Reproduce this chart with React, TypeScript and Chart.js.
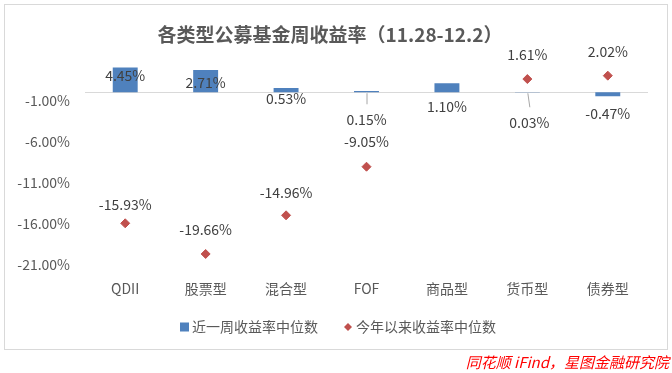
import React, { useEffect, useRef } from "react";
import { Chart, registerables } from "chart.js";

Chart.register(...registerables);

// ---------- data ----------
const categories = ["QDII", "股票型", "混合型", "FOF", "商品型", "货币型", "债券型"];
const weeklyReturn = [4.45, 2.71, 0.53, 0.15, 1.1, 0.03, -0.47];
const ytdReturn: (number | null)[] = [-15.93, -19.66, -14.96, -9.05, null, 1.61, 2.02];
const yTickValues = [-21, -16, -11, -6, -1];
const yMin = -21;
const yMax = 3;
const titleText = "各类型公募基金周收益率（11.28-12.2）";
const seriesNames = ["近一周收益率中位数", "今年以来收益率中位数"];
const sourceText = "同花顺 iFind，星图金融研究院";

// ---------- label placement (pixel offsets, styling only) ----------
const barLabelDy = [-17, -10, 6.5, 27, 14, 30, 21.5];
const barLabelDx = [0, 0, 0, 0, 0, 2, 0];
const pointLabelDy = [-19, -24, -23, -25, 0, -24, -24];

const FONT = '"Microsoft YaHei", "Noto Sans CJK SC", sans-serif';
const BLUE = "#4F81BD";
const RED = "#C0504D";
const TEXT = "#595959";
const LABEL = "#404040";

const fmt = (v: number) => v.toFixed(2) + "%";

const decorPlugin = {
  id: "decor",
  beforeDatasetsDraw(chart: any) {
    const { ctx, chartArea, scales } = chart;
    const y0 = Math.round(scales.y.getPixelForValue(0)) + 0.5;
    ctx.save();
    ctx.strokeStyle = "#D9D9D9";
    ctx.lineWidth = 1;
    ctx.beginPath();
    ctx.moveTo(chartArea.left, y0);
    ctx.lineTo(chartArea.right, y0);
    ctx.stroke();
    ctx.restore();
  },
  afterDraw(chart: any) {
    const { ctx, scales, width } = chart;
    const y0 = scales.y.getPixelForValue(0);
    ctx.save();
    // title
    ctx.font = `bold 19px ${FONT}`;
    ctx.textAlign = "center";
    ctx.textBaseline = "middle";
    ctx.fillStyle = TEXT;
    ctx.fillText(titleText, 330, 35);
    // bar labels
    ctx.font = `14px ${FONT}`;
    const barMeta = chart.getDatasetMeta(0);
    barMeta.data.forEach((el: any, i: number) => {
      const x = el.x + barLabelDx[i];
      const ly = y0 + barLabelDy[i];
      if (barLabelDy[i] > 24) {
        ctx.strokeStyle = "#A6A6A6";
        ctx.lineWidth = 1;
        ctx.beginPath();
        ctx.moveTo(el.x + 0.5, Math.max(el.y, el.base) + 1);
        ctx.lineTo(x + 0.5, ly - 15);
        ctx.stroke();
      }
      ctx.fillStyle = LABEL;
      ctx.fillText(fmt(weeklyReturn[i]), x, ly);
    });
    // point labels
    const lineMeta = chart.getDatasetMeta(1);
    lineMeta.data.forEach((el: any, i: number) => {
      const v = ytdReturn[i];
      if (v === null || v === undefined) return;
      ctx.fillStyle = LABEL;
      ctx.fillText(fmt(v), el.x, el.y + pointLabelDy[i]);
    });
    // legend
    ctx.font = `14px ${FONT}`;
    ctx.textAlign = "left";
    const ly = 327;
    const w1 = ctx.measureText(seriesNames[0]).width;
    const w2 = ctx.measureText(seriesNames[1]).width;
    const total = 9 + 3 + w1 + 26 + 8 + 4 + w2;
    let lx = Math.round(width / 2 + 2 - total / 2);
    ctx.fillStyle = BLUE;
    ctx.fillRect(lx, ly - 4.5, 9, 9);
    ctx.fillStyle = TEXT;
    ctx.fillText(seriesNames[0], lx + 12, ly);
    lx += 12 + w1 + 26;
    ctx.fillStyle = RED;
    ctx.beginPath();
    ctx.moveTo(lx + 4, ly - 4);
    ctx.lineTo(lx + 8, ly);
    ctx.lineTo(lx + 4, ly + 4);
    ctx.lineTo(lx, ly);
    ctx.closePath();
    ctx.fill();
    ctx.fillStyle = TEXT;
    ctx.fillText(seriesNames[1], lx + 12, ly);
    // frame
    ctx.strokeStyle = "#D9D9D9";
    ctx.lineWidth = 1;
    ctx.strokeRect(4.5, 4.5, 663, 345);
    // source
    ctx.font = `italic 15px ${FONT}`;
    ctx.textAlign = "right";
    ctx.fillStyle = "#FF0000";
    ctx.fillText(sourceText, 669, 362);
    ctx.restore();
  },
};

export default function App() {
  const ref = useRef<HTMLCanvasElement>(null);
  useEffect(() => {
    if (!ref.current) return;
    const chart = new Chart(ref.current, {
      type: "bar",
      data: {
        labels: categories,
        datasets: [
          {
            type: "bar",
            label: seriesNames[0],
            data: weeklyReturn,
            backgroundColor: BLUE,
            barPercentage: 0.31,
            categoryPercentage: 1,
            order: 2,
          },
          {
            type: "line",
            label: seriesNames[1],
            data: ytdReturn,
            showLine: false,
            pointStyle: "rectRot",
            pointRadius: 4.5,
            pointBorderWidth: 1,
            pointBackgroundColor: RED,
            pointBorderColor: RED,
            backgroundColor: RED,
            borderColor: RED,
            order: 1,
          },
        ],
      },
      options: {
        responsive: false,
        animation: false,
        devicePixelRatio: 1,
        layout: { padding: { left: 0, right: 24, top: 67.6, bottom: 75 } },
        plugins: {
          legend: { display: false },
          tooltip: { enabled: false },
          title: { display: false },
        },
        scales: {
          x: {
            grid: { display: false, drawTicks: false },
            border: { display: false },
            afterFit: (scale: any) => {
              scale.height = 33;
            },
            ticks: { color: TEXT, font: { family: FONT, size: 14 }, padding: 15 },
          },
          y: {
            min: yMin,
            max: yMax,
            grid: { display: false, drawTicks: false },
            border: { display: false },
            afterBuildTicks: (scale: any) => {
              scale.ticks = yTickValues.map((v) => ({ value: v }));
            },
            afterFit: (scale: any) => {
              scale.width = 85;
            },
            ticks: {
              color: TEXT,
              font: { family: FONT, size: 14 },
              padding: 15,
              callback: (v: any) => fmt(Number(v)),
            },
          },
        },
      },
      plugins: [decorPlugin],
    } as any);
    return () => chart.destroy();
  }, []);
  return (
    <div style={{ position: "fixed", left: 0, top: 0, width: 672, height: 373, background: "#fff" }}>
      <canvas ref={ref} width={672} height={373} style={{ display: "block", width: 672, height: 373 }} />
    </div>
  );
}
